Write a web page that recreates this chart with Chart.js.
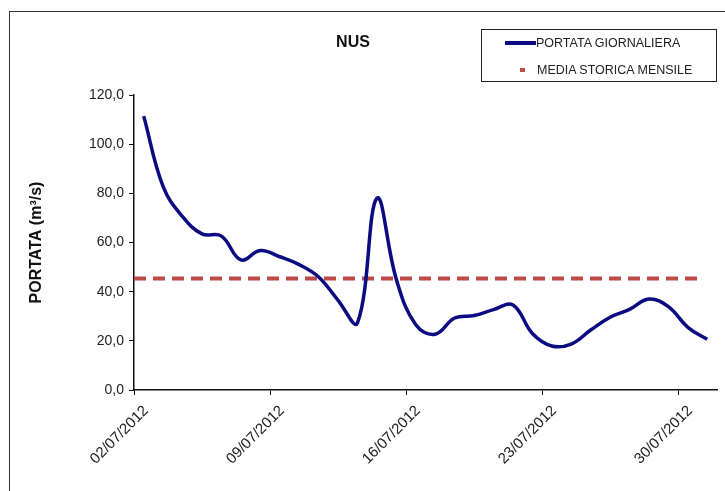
<!DOCTYPE html>
<html>
<head>
<meta charset="utf-8">
<script src="https://cdn.jsdelivr.net/npm/chart.js@4/dist/chart.umd.min.js"></script>
<style>
  html, body { margin: 0; padding: 0; background: #fff; }
  #wrap { position: relative; width: 725px; height: 491px; overflow: hidden; background: #fff; font-family: "Liberation Sans", Arial, sans-serif; }
  #frame { position: absolute; left: 9px; top: 11px; width: 800px; height: 600px; border-left: 1.5px solid #333; border-top: 1.5px solid #333; }
  #c { position: absolute; left: 0; top: 0; }
  #title { position: absolute; left: 303px; width: 100px; top: 32px; text-align: center; font-weight: bold; font-size: 16px; color: #111; line-height: 20px; }
  #legend { position: absolute; left: 481px; top: 29px; width: 234px; height: 51px; border: 1.5px solid #222; background: #fff; }
  .li { position: absolute; font-size: 12.5px; color: #222; line-height: 14px; white-space: nowrap; }
  .sw { position: absolute; height: 4px; }
</style>
</head>
<body>
<div id="wrap">
  <div id="frame"></div>
  <canvas id="c" width="725" height="491"></canvas>
  <div id="title">NUS</div>
  <div id="legend">
    <div class="sw" style="left:23px; top:11px; width:31px; background:#0b0b82;"></div>
    <div class="li" style="left:54px; top:6px;">PORTATA GIORNALIERA</div>
    <div class="sw" style="left:38px; top:38px; width:5px; background:#be4b48;"></div>
    <div class="li" style="left:55px; top:33px;">MEDIA STORICA MENSILE</div>
  </div>
</div>
<script>
// ---- data ----
const dates = ['02/07/2012','03/07/2012','04/07/2012','05/07/2012','06/07/2012','07/07/2012','08/07/2012',
  '09/07/2012','10/07/2012','11/07/2012','12/07/2012','13/07/2012','14/07/2012','15/07/2012',
  '16/07/2012','17/07/2012','18/07/2012','19/07/2012','20/07/2012','21/07/2012','22/07/2012',
  '23/07/2012','24/07/2012','25/07/2012','26/07/2012','27/07/2012','28/07/2012','29/07/2012',
  '30/07/2012','31/07/2012'];
const portataGiornaliera = [111.4, 82.7, 70.5, 63.5, 62.6, 52.9, 56.7, 54.2, 51.0, 46.0,
  36.5, 27.3, 78.0, 45.0, 26.5, 22.7, 29.3, 30.3, 32.7, 34.6,
  23.0, 17.9, 18.7, 24.4, 29.6, 32.8, 37.0, 33.9, 25.5, 20.6];
const mediaStoricaMensile = [45.4, 45.4, 45.4, 45.4, 45.4, 45.4, 45.4, 45.4, 45.4, 45.4,
  45.4, 45.4, 45.4, 45.4, 45.4, 45.4, 45.4, 45.4, 45.4, 45.4,
  45.4, 45.4, 45.4, 45.4, 45.4, 45.4, 45.4, 45.4, 45.4, 45.4];
const xTickDays = [0, 7, 14, 21, 28];
const yTicks = [0, 20, 40, 60, 80, 100, 120];
const yTitle = 'PORTATA (m\u00B3/s)';

// points sit mid-day for daily flow, on the day boundary for the monthly mean
const dailyPts = portataGiornaliera.map((v, i) => ({ x: i + 0.5, y: v }));
const mediaPts = mediaStoricaMensile.map((v, i) => ({ x: i, y: v }));

const FONT = "'Liberation Sans', Arial, sans-serif";
Chart.defaults.font.family = FONT;

new Chart(document.getElementById('c'), {
  type: 'line',
  data: {
    datasets: [
      { label: 'MEDIA STORICA MENSILE', data: mediaPts, borderColor: '#be4b48', borderWidth: 4,
        borderDash: [12, 7], pointRadius: 0, tension: 0, order: 2 },
      { label: 'PORTATA GIORNALIERA', data: dailyPts, borderColor: '#0b0b82', borderWidth: 3.5,
        pointRadius: 0, tension: 0.4, cubicInterpolationMode: 'default', order: 1 }
    ]
  },
  options: {
    responsive: false,
    devicePixelRatio: 1,
    animation: false,
    layout: { padding: { left: 0, top: 95, right: 8, bottom: 0 } },
    plugins: { legend: { display: false }, title: { display: false }, tooltip: { enabled: false } },
    scales: {
      x: {
        type: 'linear', min: 0, max: dates.length,
        afterBuildTicks: s => { s.ticks = xTickDays.map(v => ({ value: v })); },
        afterFit: s => { s.height = 101; },
        grid: { display: true, drawOnChartArea: false, drawTicks: true, tickLength: 5, color: '#111', lineWidth: 1 },
        border: { display: true, color: '#111', width: 1.5 },
        ticks: {
          autoSkip: false, minRotation: 45, maxRotation: 45, labelOffset: 12, padding: 7,
          color: '#222', font: { size: 15 },
          callback: v => dates[v] || ''
        }
      },
      y: {
        min: 0, max: 120,
        afterBuildTicks: s => { s.ticks = yTicks.map(v => ({ value: v })); },
        afterFit: s => { s.width = 134; },
        grid: { display: true, drawOnChartArea: false, drawTicks: true, tickLength: 5, color: '#111', lineWidth: 1 },
        border: { display: true, color: '#111', width: 1.5 },
        ticks: { color: '#222', font: { size: 14 }, padding: 5,
          callback: v => v.toFixed(1).replace('.', ',') },
        title: { display: true, text: yTitle, color: '#111', font: { size: 16, weight: 'bold' },
          padding: { top: 27, bottom: 0 } }
      }
    }
  }
});
</script>
</body>
</html>
